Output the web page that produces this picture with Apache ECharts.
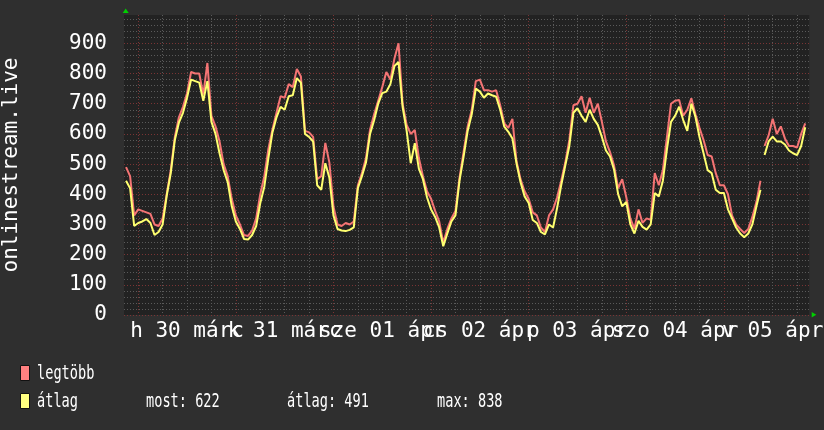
<!DOCTYPE html>
<html><head><meta charset="utf-8">
<script src="https://cdn.jsdelivr.net/npm/echarts@6/dist/echarts.min.js"></script>
<style>html,body{margin:0;padding:0;background:#2f2f2f}#c{width:824px;height:430px}</style>
</head><body><div id="c"></div><script>
// hours are counted from Mon 30 Mar 00:00; first sample at startHour, one per hour
const startHour = -3;
const gapAfterHour = 153; // one missing sample after this hour
const maxValues = [ // legtöbb
 490,460,330,350,345,340,335,300,295,320,400,480,590,
 655,690,735,805,800,800,730,835,660,625,
 575,500,460,385,330,300,265,262,280,320,
 400,460,550,615,670,725,720,765,755,815,
 790,610,605,590,450,460,570,505,360,300,
 295,305,300,310,430,470,520,615,665,710,
 755,805,780,850,900,700,630,600,613,520,
 460,410,385,345,310,240,285,320,345,455,
 540,625,680,775,780,745,745,740,745,695,
 635,620,650,510,450,410,385,340,330,290,
 275,330,350,390,445,505,580,695,700,725,
 670,720,670,700,640,575,540,495,420,450,
 390,320,285,350,305,320,315,470,430,480,
 590,700,710,712,660,680,718,665,620,580,
 530,525,470,430,430,400,330,300,285,272,
 285,325,375,445,560,595,650,600,625,585,
 560,560,555,600,635
];
const avgValues = [ // átlag
 445,420,295,305,310,318,305,265,275,300,395,470,580,
 637,670,720,780,775,770,710,775,640,600,
 535,480,440,360,310,285,252,250,265,295,
 370,425,520,605,655,690,680,725,728,785,
 770,600,590,575,430,415,503,455,330,285,
 280,278,282,290,420,460,505,600,645,700,
 735,740,765,825,838,690,610,503,569,485,
 450,390,350,325,290,228,270,310,330,445,
 525,610,665,750,740,720,734,728,723,680,
 624,607,585,503,440,393,371,315,305,275,
 267,300,290,355,430,495,560,670,685,660,
 640,680,650,630,590,545,525,481,400,360,
 375,300,270,312,292,283,300,404,393,445,
 550,640,660,690,646,610,700,657,590,536,
 480,470,415,404,404,350,320,290,270,258,
 270,300,360,415,530,575,591,575,575,565,
 545,536,530,560,622
];
const dayLabels = ['h 30 márc','k 31 márc','sze 01 ápr','cs 02 ápr','p 03 ápr','szo 04 ápr','v 05 ápr'];
const yTickValues = [0,100,200,300,400,500,600,700,800,900];
const legendNames = ['legtöbb','átlag'];
const statTexts = ['most: 622','átlag: 491','max: 838'];

const xMin = -3.5, xMax = 165, yMax = 994;
const dayStarts = dayLabels.map((d,i)=>i*24);
const noonsEven = [], noonsOdd = [];
dayLabels.forEach((d,i)=>{ (i%2===0 ? noonsEven : noonsOdd).push(i*24+12); });
const sixHours = []; for (let h=0; h<=xMax; h+=6) sixHours.push(h);
const yMinor = []; for (let v=0; v<yMax; v+=20) yMinor.push(v);

function toPairs(vals){
  const out=[];
  vals.forEach((v,i)=>{const h=startHour+i; out.push([h,v]); if(h===gapAfterHour) out.push([h+0.5,null]);});
  return out;
}
const FONT='DejaVu Sans Mono';
const xLabel = (vals)=>({customValues:vals,color:'#ffffff',fontFamily:FONT,fontSize:21,margin:6,
       hideOverlap:false,showMinLabel:true,showMaxLabel:true,
       formatter:(v)=>dayLabels[Math.round((v-12)/24)]});
const chart = echarts.init(document.getElementById('c'), null, {renderer:'canvas'});
const option = {
  backgroundColor:'#2f2f2f',
  animation:false,
  grid:{left:124,right:14.7,top:15,bottom:115,show:true,backgroundColor:'#222222',borderWidth:0,
        containLabel:false,outerBoundsMode:'none'},
  xAxis:[
    {type:'value',min:xMin,max:xMax,position:'bottom',axisLine:{show:false},
     axisTick:{show:false,customValues:sixHours},
     axisLabel:xLabel(noonsEven),
     splitLine:{show:true,lineStyle:{color:'#5a5a5a',type:[1,2],width:1}}},
    {type:'value',min:xMin,max:xMax,position:'bottom',axisLine:{show:false},
     axisTick:{show:false,customValues:dayStarts},axisLabel:xLabel(noonsOdd),
     splitLine:{show:true,lineStyle:{color:'#7a3434',type:[1,2],width:1}}}
  ],
  yAxis:[
    {type:'value',min:0,max:yMax,position:'left',axisLine:{show:false},
     axisTick:{show:false,customValues:yMinor},axisLabel:{show:false},
     splitLine:{show:true,lineStyle:{color:'#5a5a5a',type:[1,2],width:1}}},
    {type:'value',min:0,max:yMax,position:'left',axisLine:{show:false},
     axisTick:{show:false,customValues:yTickValues},
     axisLabel:{customValues:yTickValues,color:'#ffffff',fontFamily:FONT,fontSize:21,margin:17,
       showMinLabel:true,showMaxLabel:true},
     splitLine:{show:true,lineStyle:{color:'#7a3434',type:[1,2],width:1}},
     name:'onlinestream.live',nameLocation:'middle',nameRotate:90,nameGap:102,
     nameTextStyle:{color:'#ffffff',fontFamily:FONT,fontSize:21}}
  ],
  series:[
    {name:legendNames[0],type:'line',xAxisIndex:0,yAxisIndex:0,data:toPairs(maxValues),showSymbol:false,
     lineStyle:{color:'#f47474',width:2},itemStyle:{color:'#f47474'}},
    {name:legendNames[1],type:'line',xAxisIndex:0,yAxisIndex:0,data:toPairs(avgValues),showSymbol:false,
     lineStyle:{color:'#ffff70',width:2},itemStyle:{color:'#ffff70'}}
  ]
};
chart.setOption(option);
const pLB = chart.convertToPixel({xAxisIndex:0,yAxisIndex:0},[xMin,0]);
const pRT = chart.convertToPixel({xAxisIndex:0,yAxisIndex:0},[xMax,yMax]);
const L=pLB[0], B=pLB[1], R=pRT[0], T=pRT[1];
const txt=(x,y,t)=>({type:'text',x:x,y:y,scaleX:0.68,style:{text:t,fill:'#ffffff',font:'20px "DejaVu Sans Mono"',verticalAlign:'middle'}});
chart.setOption({graphic:[
  {type:'polygon',shape:{points:[[L+1.7,T-6.5],[L-1.3,T-2],[L+4.7,T-2]]},style:{fill:'#00d000'}},
  {type:'polygon',shape:{points:[[R+7,B-0.3],[R+2.4,B-3],[R+2.4,B+2.4]]},style:{fill:'#00d000'}},
  {type:'rect',shape:{x:20.5,y:365.5,width:9,height:15},style:{fill:'#ff8080',stroke:'#111',lineWidth:1}},
  {type:'rect',shape:{x:20.5,y:393.5,width:9,height:15},style:{fill:'#ffff80',stroke:'#111',lineWidth:1}},
  txt(37,374,legendNames[0]),
  txt(37,402,legendNames[1]),
  txt(146,402,statTexts[0]),
  txt(287,402,statTexts[1]),
  txt(437,402,statTexts[2])
]});
</script></body></html>
